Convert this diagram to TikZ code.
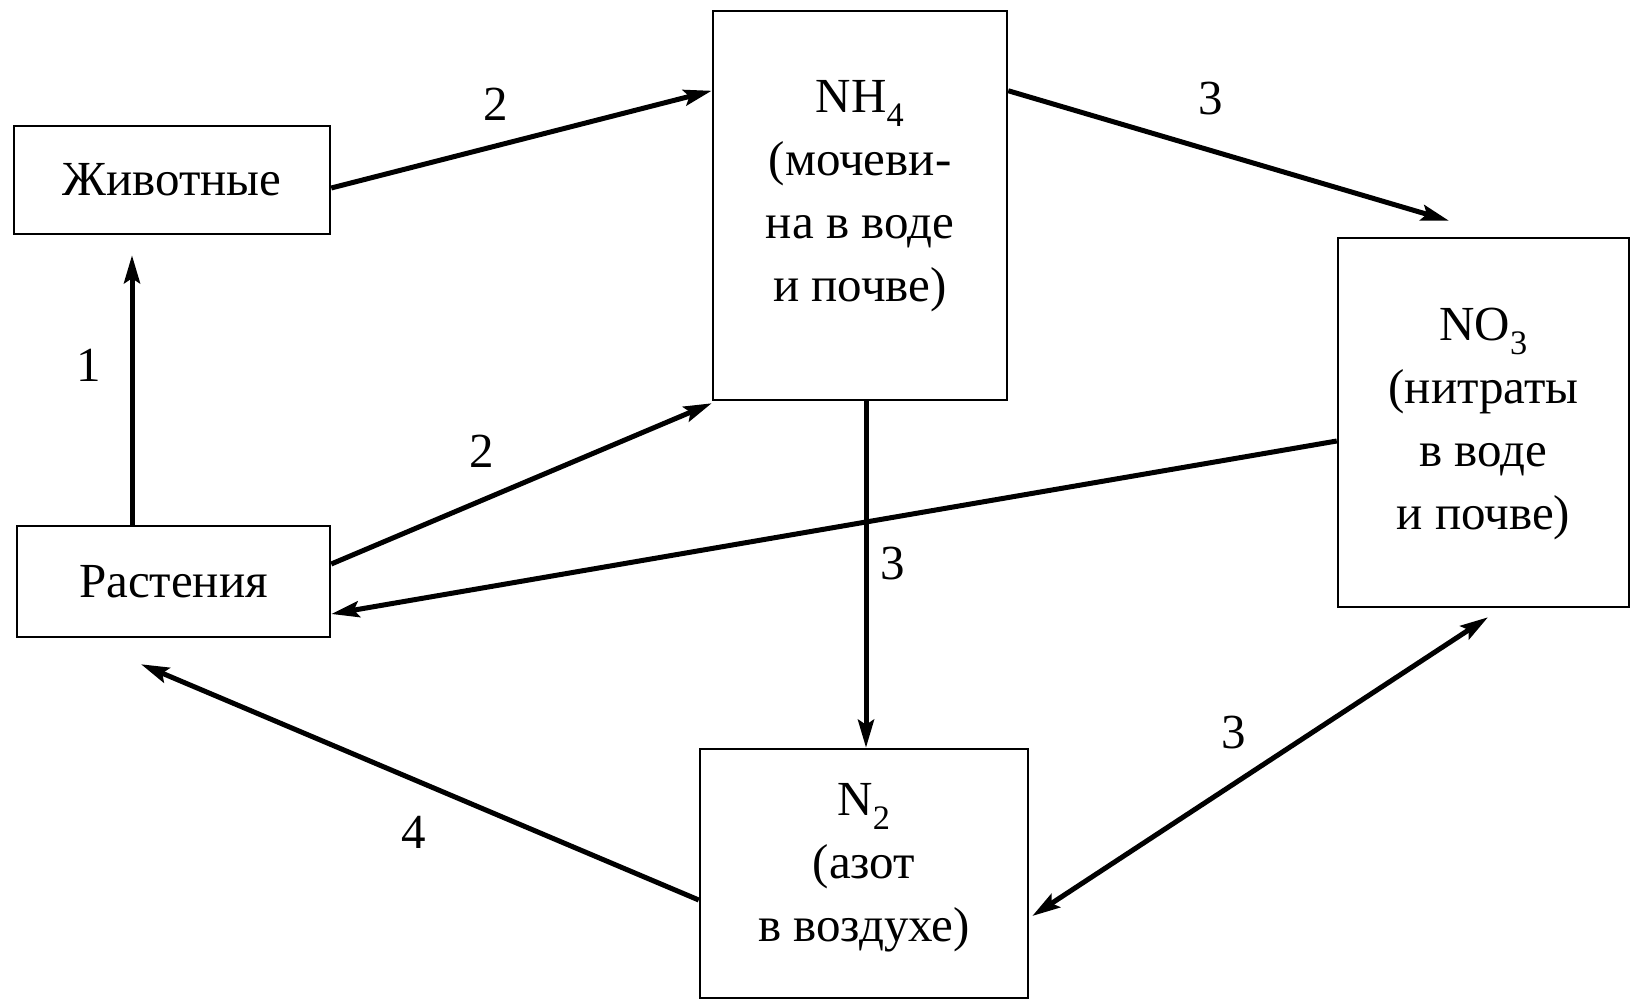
\documentclass[tikz,border=0pt]{standalone}
\usepackage{fontspec}
\setmainfont{Liberation Serif}
\usetikzlibrary{arrows.meta}
\begin{document}
\begin{tikzpicture}[x=1pt,y=-1pt,
  box/.style={draw,line width=2.5pt,rectangle,inner sep=0pt,align=center,
    font=\fontsize{49}{63}\selectfont},
  lbl/.style={font=\fontsize{49}{63}\selectfont,inner sep=0pt},
  conn/.style={line width=5pt,-{Stealth[length=28pt,width=16pt,inset=5pt]}},
  bconn/.style={line width=5pt,{Stealth[length=28pt,width=16pt,inset=5pt]}-{Stealth[length=28pt,width=16pt,inset=5pt]}}]
\fill[white] (0,0) rectangle (1637,1000);
\useasboundingbox (0,0) rectangle (1637,1000);

\node[box,minimum width=316pt,minimum height=108pt] (zhiv) at (172,180) {Животные};
\node[box,minimum width=313pt,minimum height=111pt] (rast) at (173.5,581.5) {Растения};
\node[box,minimum width=294pt,minimum height=389pt] (nh4) at (860,205.5) {};
\node[box,minimum width=291pt,minimum height=369pt] (no3) at (1483.5,422.5) {};
\node[box,minimum width=328pt,minimum height=249pt] (n2) at (864,873.5) {};

\node[lbl,align=center] (nh4t) at (860,196) {NH\textsubscript{4}\\(мочеви-\\на в воде\\и почве)};
\node[lbl,align=center] (no3t) at (1483.5,424) {NO\textsubscript{3}\\(нитраты\\в воде\\и почве)};
\node[lbl,align=center] (n2t) at (864,868) {N\textsubscript{2}\\(азот\\в воздухе)};

\draw[conn] ([yshift=-8pt]zhiv.east) -- ([yshift=-81pt]nh4.north west);
\draw[conn] ([yshift=17.5pt]rast.east) -- ([yshift=-2pt]nh4.south west);
\draw[conn] ([xshift=-41.5pt]rast.north) -- ([xshift=-40pt,yshift=-20pt]zhiv.south);
\draw[conn] ([yshift=-81pt]nh4.north east) -- ([xshift=-34.5pt,yshift=16pt]no3.north);
\draw[conn] ([yshift=-18.5pt]no3.west) -- ([yshift=-32.5pt]rast.east);
\draw[conn] ([xshift=6pt]nh4.south) -- ([xshift=2pt]n2.north);
\draw[conn] ([yshift=-26.5pt]n2.west) -- ([xshift=-32.5pt,yshift=-26pt]rast.south);
\draw[bconn] ([xshift=3pt,yshift=-42.5pt]n2.east) -- ([xshift=4.5pt,yshift=-9pt]no3.south);

\node[lbl] (l2a) at (496,104) {2};
\node[lbl] (l2b) at (482,451) {2};
\node[lbl] (l1) at (89,365) {1};
\node[lbl] (l3a) at (1211,99) {3};
\node[lbl] (l3b) at (893,564) {3};
\node[lbl] (l4) at (414,832) {4};
\node[lbl] (l3c) at (1234,733) {3};
\end{tikzpicture}
\end{document}
